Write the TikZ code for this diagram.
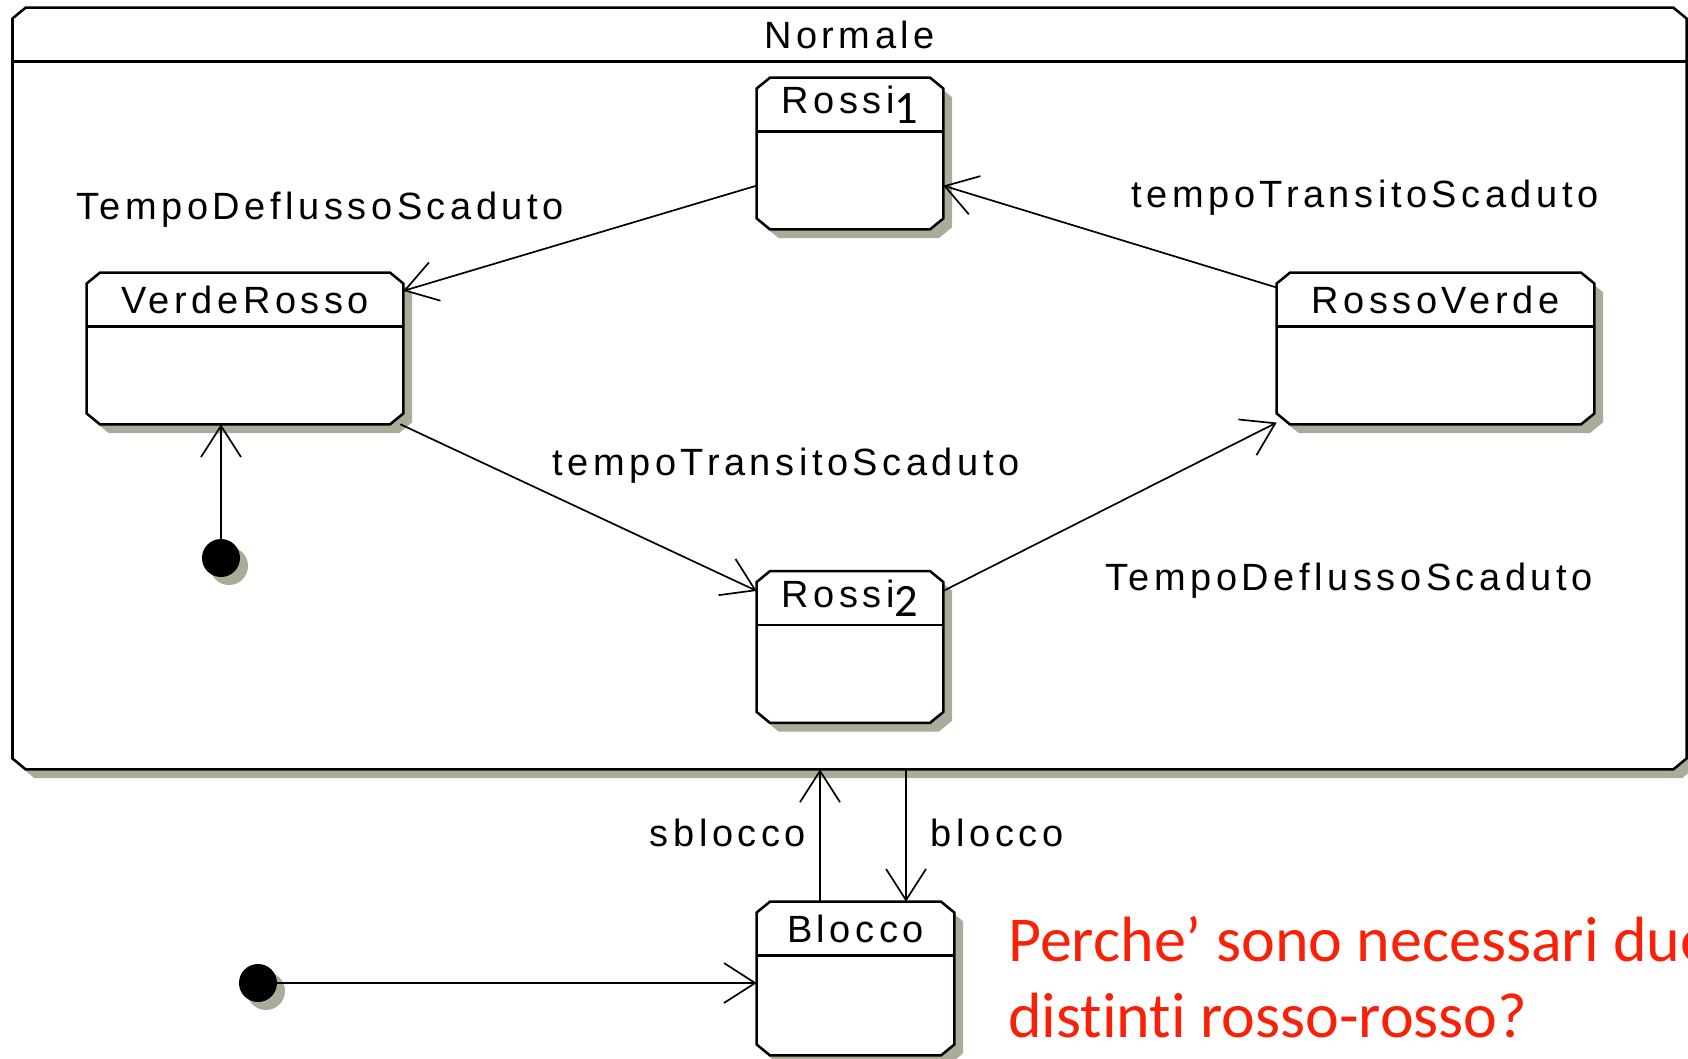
\documentclass[tikz,border=0pt]{standalone}
\usepackage{fontspec}
\usetikzlibrary{arrows.meta,shadows}
\newfontfamily\umlfont{Liberation Sans}[LetterSpace=12]
\newfontfamily\notefont{Carlito}[Ligatures=NoCommon]
\definecolor{shadowgray}{RGB}{172,170,152}
\definecolor{notered}{RGB}{250,32,8}
\newcommand{\stateIdx}[1]{\raisebox{-6.5pt}{\notefont\fontsize{33}{33}\selectfont #1}}

\begin{document}
\begin{tikzpicture}[x=0.025cm,y=-0.025cm,
  >={Straight Barb[length=0.78cm,width=1cm]},
  umltext/.style={font=\umlfont\fontsize{27}{32}\selectfont,inner sep=0pt},
  umlshadow/.style={drop shadow={shadow xshift=0.22cm,shadow yshift=-0.22cm,fill=shadowgray,opacity=1}},
  box/.style={line width=1.8pt},
  state/.style={rectangle,inner sep=0pt,minimum height=3.775cm},
  initial/.style={circle,fill=black,minimum size=0.95cm,inner sep=0pt,
    drop shadow={shadow xshift=0.2cm,shadow yshift=-0.2cm,fill=shadowgray,opacity=1}},
  trans/.style={->,line width=1.2pt}]
  \useasboundingbox (0,0) rectangle (1688,1058);

  % superstate and states (outlines are drawn below)
  \node[state,minimum width=41.825cm,minimum height=19.025cm] (normale) at (849.5,388.5) {};
  \node[state,minimum width=4.65cm] (rossiA) at (850,153.5) {};
  \node[state,minimum width=7.9cm] (vr) at (245,348.5) {};
  \node[state,minimum width=7.925cm] (rv) at (1435.5,348.5) {};
  \node[state,minimum width=4.65cm] (rossiB) at (850,647) {};
  \node[state,minimum width=4.925cm,minimum height=3.825cm] (blocco) at (855.5,978.5) {};

  \foreach \n/\t in {normale/Normale,rossiA/{Rossi\stateIdx{1}},vr/VerdeRosso,
                     rv/RossoVerde,rossiB/{Rossi\stateIdx{2}},blocco/Blocco} {
    \draw[box,umlshadow,fill=white] ([xshift=0.33cm]\n.north west) -- ([xshift=-0.33cm]\n.north east)
      -- ([yshift=-0.27cm]\n.north east) -- ([yshift=0.27cm]\n.south east)
      -- ([xshift=-0.33cm]\n.south east) -- ([xshift=0.33cm]\n.south west)
      -- ([yshift=0.27cm]\n.south west) -- ([yshift=-0.27cm]\n.north west) -- cycle;
    \draw[box] ([yshift=-1.35cm]\n.north west) -- ([yshift=-1.35cm]\n.north east);
    \node[umltext] (\n-title) at ([yshift=-0.675cm]\n.north) {\t};
  }

  \node[initial] (initA) at (221,558) {};
  \node[initial] (initB) at (258,983) {};

  \path[trans] (rossiA.199) edge (vr.20)
    (rv.159) edge (rossiA.341)
    (vr.334) edge (rossiB.149)
    (rossiB.31) edge (rv.205)
    (initA) edge (initA |- vr.south)
    (initB) edge (initB -| blocco.west)
    ([xshift=-0.8875cm]blocco.north) edge ([xshift=-0.8875cm]blocco.north |- normale.south)
    ([xshift=1.2625cm]blocco.north |- normale.south) edge ([xshift=1.2625cm]blocco.north);

  \node[umltext] (deflA) at (320,210) {TempoDeflussoScaduto};
  \node[umltext] (transA) at (1365,198) {tempoTransitoScaduto};
  \node[umltext] (transB) at (786,466) {tempoTransitoScaduto};
  \node[umltext] (deflB) at (1349,581) {TempoDeflussoScaduto};
  \node[umltext] (sbl) at (728,833) {sblocco};
  \node[umltext] (bl) at (997,833) {blocco};

  \node[font=\notefont\fontsize{45.5}{54}\selectfont,text=notered,align=left,anchor=base west,inner sep=0pt]
    (domanda) at (1008,1037) {Perche’ sono necessari due\\distinti rosso-rosso?};
\end{tikzpicture}
\end{document}
